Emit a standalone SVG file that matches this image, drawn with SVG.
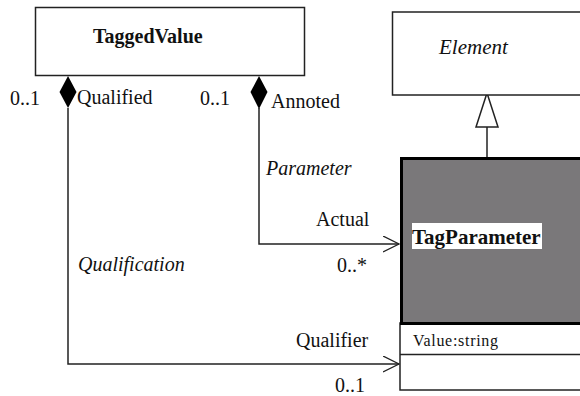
<svg xmlns="http://www.w3.org/2000/svg" width="580" height="396" viewBox="0 0 580 396" font-family="Liberation Serif, serif" font-size="20">
  <style>
    .box { fill: #ffffff; stroke: #222222; stroke-width: 1.5; }
    .line { fill: none; stroke: #222222; stroke-width: 1.5; }
    .bold { font-weight: bold; }
    .ital { font-style: italic; }
  </style>
  <defs>
    <marker id="open" markerWidth="18" markerHeight="18" refX="16" refY="8" orient="auto" markerUnits="userSpaceOnUse">
      <polyline points="0,0 16,8 0,16" fill="none" stroke="#222222" stroke-width="1.3"/>
    </marker>
  </defs>
  <rect width="580" height="396" fill="#ffffff"/>

  <!-- connectors -->
  <g id="connectors" fill="#111111">
    <!-- aggregation: TaggedValue -> TagParameter (Parameter) -->
    <polyline class="line" points="259,108 259,244 399,244" marker-end="url(#open)"/>
    <!-- aggregation: TaggedValue -> TagParameter (Qualification) -->
    <polyline class="line" points="68,108 68,364 399,364" marker-end="url(#open)"/>
    <!-- aggregation diamonds -->
    <polygon points="68,76 76.5,92 68,108 59.5,92" fill="#000000"/>
    <polygon points="259,76 267.5,92 259,109 250.5,92" fill="#000000"/>
    <!-- generalization TagParameter -> Element -->
    <line class="line" x1="487" y1="127" x2="487" y2="157"/>
    <polygon points="487,93 498,127 476,127" fill="#ffffff" stroke="#222222" stroke-width="1.5"/>

    <text x="10" y="105">0..1</text>
    <text x="77" y="104">Qualified</text>
    <text x="200" y="105">0..1</text>
    <text x="271" y="108">Annoted</text>
    <text class="ital" x="266" y="175">Parameter</text>
    <text x="316" y="226">Actual</text>
    <text x="337" y="272">0..*</text>
    <text class="ital" x="78" y="271">Qualification</text>
    <text x="296" y="347">Qualifier</text>
    <text x="335" y="392">0..1</text>
  </g>

  <g id="TaggedValue" fill="#111111">
    <rect class="box" x="35.5" y="7.5" width="269" height="68"/>
    <text class="bold" x="93" y="43">TaggedValue</text>
  </g>

  <g id="Element" fill="#111111">
    <rect class="box" x="392.5" y="12" width="200" height="83"/>
    <text class="ital" x="439" y="54" font-size="21">Element</text>
  </g>

  <g id="TagParameter" fill="#111111">
    <rect class="box" x="400" y="323" width="190" height="67"/>
    <line class="line" x1="400" y1="354.5" x2="590" y2="354.5"/>
    <rect x="401.5" y="158.5" width="190" height="165" fill="#7a787a" stroke="#000000" stroke-width="3"/>
    <rect x="412" y="223" width="130" height="26" fill="#ffffff"/>
    <text class="bold" x="412" y="244" font-size="21">TagParameter</text>
    <text x="413" y="346" font-size="16" textLength="85">Value:string</text>
  </g>
</svg>
